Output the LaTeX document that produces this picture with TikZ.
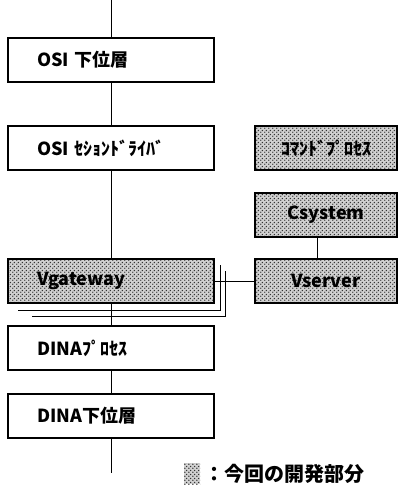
\documentclass[tikz,border=0pt]{standalone}
\usepackage{fontspec}
\setmainfont{Noto Sans CJK JP}
\usetikzlibrary{patterns}

\newcommand*{\boxw}{206pt}
\newcommand*{\boxh}{44pt}

% screen used for the parts that are new
\pgfdeclarepatternformonly{screendots}{\pgfqpoint{0pt}{0pt}}{\pgfqpoint{4pt}{4pt}}{\pgfqpoint{4pt}{4pt}}
{
	\pgfpathcircle{\pgfqpoint{1pt}{1pt}}{0.9pt}
	\pgfpathcircle{\pgfqpoint{3pt}{3pt}}{0.9pt}
	\pgfusepath{fill}
}

\begin{document}
\begin{tikzpicture}
[
	x=1pt,
	y=-1pt,
	layerbox/.style={draw,line width=1.6pt,fill=white,minimum width=\boxw,minimum height=\boxh,
		text width=148pt,align=left,inner xsep=29pt,font=\fontsize{18}{20}\selectfont\bfseries},
	sidebox/.style={draw,line width=1.6pt,minimum width=142pt,minimum height=\boxh,
		font=\fontsize{18}{20}\selectfont\bfseries},
	newpart/.style={preaction={fill=black!18},pattern=screendots,pattern color=black!80},
	conn/.style={line width=0.9pt}
]

	\useasboundingbox (0,0) rectangle (400,497);

	% layer stack
	\coordinate (top) at (111,0);
	\node[layerbox] (osilow) at (111,60) {OSI 下位層};
	\node[layerbox] (osisess) at (111,148) {OSI ｾｼｮﾝﾄﾞﾗｲﾊﾞ};
	\node[layerbox,newpart] (vgw) at (111,281) {Vgateway};
	\node[layerbox] (dinaproc) at (111,348) {DINAﾌﾟﾛｾｽ};
	\node[layerbox] (dinalow) at (111,416) {DINA下位層};
	\coordinate (bottom) at (111,473);

	\draw[conn] (top) -- (osilow);
	\draw[conn] (osilow) -- (osisess);
	\draw[conn] (osisess) -- (vgw);
	\draw[conn] (vgw) -- (dinaproc);
	\draw[conn] (dinaproc) -- (dinalow);
	\draw[conn] (dinalow) -- (bottom);

	% right hand side
	\node[sidebox,newpart] (cmdproc) at (326,148) {ｺﾏﾝﾄﾞﾌﾟﾛｾｽ};
	\node[sidebox,newpart] (csys) at (326,215) {Csystem};
	\node[sidebox,newpart] (vsrv) at (326,281) {Vserver};

	\draw[conn] ([xshift=-9pt]csys.south) -- ([xshift=-9pt]vsrv.north);
	\draw[conn] (vgw.east) -- (vsrv.west);

	% bundled lines under Vgateway
	\coordinate (busa) at (220,265);
	\coordinate (busb) at (225,271);
	\draw[conn] (busa) -- (220,310) -- (18,310);
	\draw[conn] (busb) -- (225,316) -- (32,316);

	% legend
	\node[newpart,minimum width=16pt,minimum height=21pt,inner sep=0pt] (legend) at (192,473.5) {};
	\node[anchor=west,inner sep=0pt,font=\fontsize{20}{22}\selectfont\bfseries] (legendtext) at ([xshift=4pt]legend.east) {：今回の開発部分};

\end{tikzpicture}
\end{document}
